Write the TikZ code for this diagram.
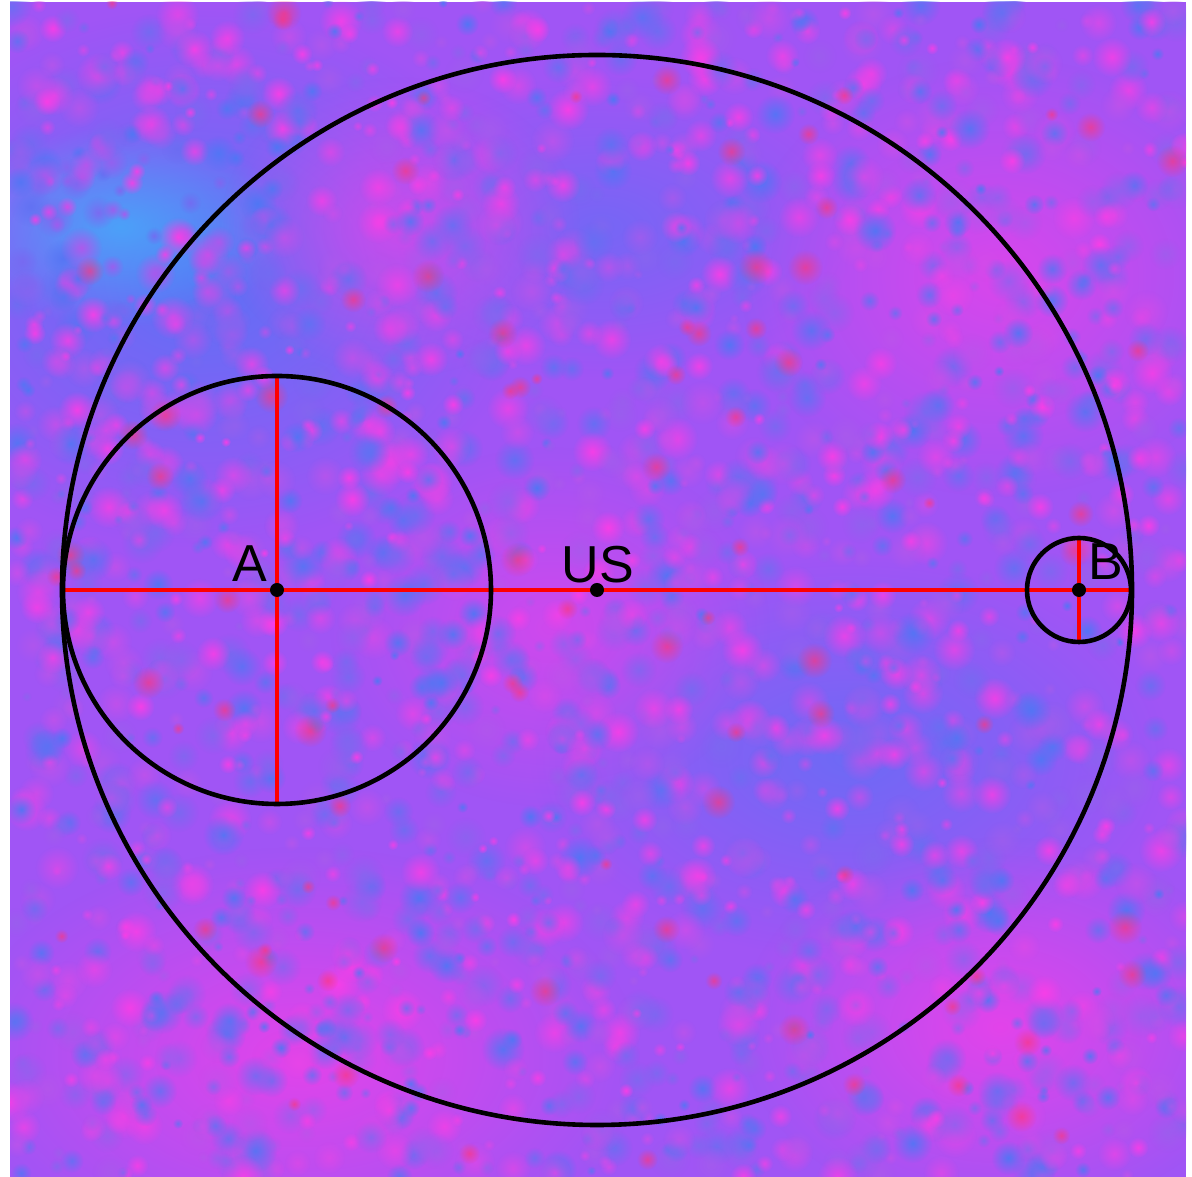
\documentclass[tikz,border=0pt]{standalone}
\usepackage{fontspec}
\setsansfont{Liberation Sans}
\usetikzlibrary{fadings}
\tikzfading[name=softblob, inner color=transparent!0, outer color=transparent!100]
\definecolor{basev}{RGB}{160,85,245}
\definecolor{pinkn}{RGB}{255,60,230}
\definecolor{bluen}{RGB}{75,120,245}
\definecolor{cyann}{RGB}{60,185,250}
\definecolor{redn}{RGB}{250,55,130}
\definecolor{redl}{RGB}{255,0,0}
\tikzset{
  circ/.style={draw=black, line width=4.6pt},
  redline/.style={draw=redl, line width=4pt},
  dotn/.style={circle, fill=black, inner sep=0pt, minimum size=14pt},
  lbl/.style={font=\sffamily\fontsize{52}{60}\selectfont, inner sep=0pt, anchor=base, text=black}
}
\begin{document}
\begin{tikzpicture}[x=1pt,y=1pt]
\useasboundingbox (0,0) rectangle (1192,1177);
\fill[white] (0,0) rectangle (1192,1177);
\begin{scope}
\clip (10,0) rectangle (1186,1175);
\fill[basev] (10,0) rectangle (1186,1175);
% large-scale tone variations
\fill[bluen, opacity=0.8, path fading=softblob] (200,900) ellipse[x radius=330, y radius=270];
\fill[cyann, opacity=0.7, path fading=softblob] (120,950) ellipse[x radius=170, y radius=100];
\fill[bluen, opacity=0.6, path fading=softblob] (850,420) ellipse[x radius=320, y radius=200];
\fill[bluen, opacity=0.5, path fading=softblob] (600,950) ellipse[x radius=260, y radius=150];
\fill[pinkn, opacity=0.7, path fading=softblob] (300,120) ellipse[x radius=340, y radius=210];
\fill[pinkn, opacity=0.7, path fading=softblob] (1000,150) ellipse[x radius=260, y radius=190];
\fill[pinkn, opacity=0.6, path fading=softblob] (1000,900) ellipse[x radius=260, y radius=220];
\fill[pinkn, opacity=0.6, path fading=softblob] (400,950) ellipse[x radius=180, y radius=150];
\fill[pinkn, opacity=0.5, path fading=softblob] (550,550) ellipse[x radius=220, y radius=180];
% small blobs
\pgfmathsetseed{11}
\foreach \i in {1,...,2600}{
  \pgfmathsetmacro\px{10+1176*rnd}
  \pgfmathsetmacro\py{1175*rnd}
  \pgfmathsetmacro\rr{5+17*rnd}
  \pgfmathtruncatemacro\pp{100*rnd}
  \fill[pinkn!\pp!bluen, opacity=0.9, path fading=softblob] (\px,\py) circle[radius=\rr];
}
\pgfmathsetseed{5}
\foreach \i in {1,...,90}{
  \pgfmathsetmacro\px{10+1176*rnd}
  \pgfmathsetmacro\py{1175*rnd}
  \pgfmathsetmacro\rr{6+12*rnd}
  \fill[redn, opacity=0.7, path fading=softblob] (\px,\py) circle[radius=\rr];
}
\end{scope}
% geometry
\coordinate (us) at (597,587);
\coordinate (a) at (277,587);
\coordinate (b) at (1079,587);
\coordinate (left) at (63,587);
\coordinate (right) at (1131,587);
\coordinate (atop) at (277,800);
\coordinate (abot) at (277,374);
\coordinate (btop) at (1079,639);
\coordinate (bbot) at (1079,535);
\draw[redline] (left) -- (right);
\draw[redline] (atop) -- (abot);
\draw[redline] (btop) -- (bbot);
\draw[circ] (us) circle[radius=535];
\draw[circ] (a) circle[radius=214];
\draw[circ] (b) circle[radius=52];
\node[dotn] (dA) at (a) {};
\node[dotn] (dUS) at (us) {};
\node[dotn] (dB) at (b) {};
\node[lbl] (lA) at (250,595) {A};
\node[lbl] (lUS) at (598,594) {US};
\node[lbl] (lB) at (1106,597) {B};
\end{tikzpicture}
\end{document}
